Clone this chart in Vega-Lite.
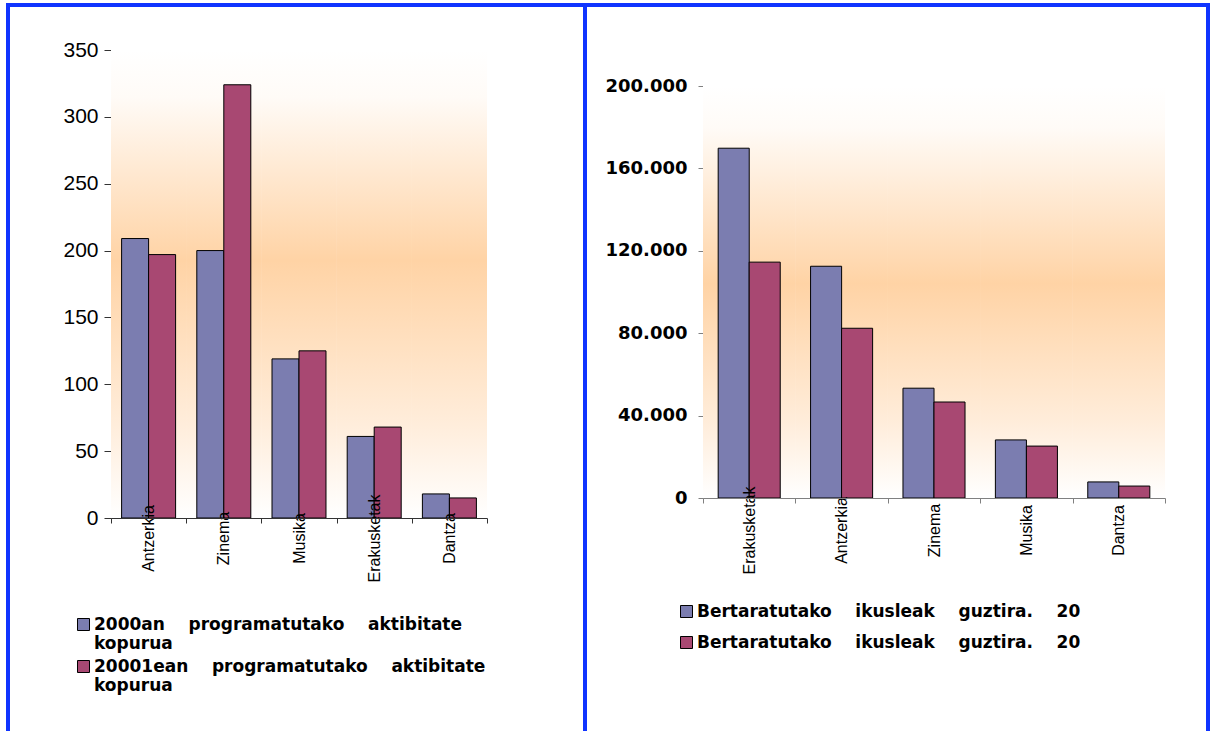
{
  "$schema": "https://vega.github.io/schema/vega-lite/v6.json",
  "padding": {"left": -2, "top": 3, "right": 0, "bottom": 0},
  "bounds": "flush",
  "spacing": 0,
  "background": "#ffffff",
  "config": {
    "view": {"stroke": "#1034ff", "strokeWidth": 4, "fill": "#ffffff"},
    "axis": {"grid": false, "labelColor": "#000000", "title": null}
  },
  "resolve": {"scale": {"color": "independent", "x": "independent", "y": "independent"}, "legend": {"color": "independent"}},
  "hconcat": [
    {
      "width": 577,
      "height": 740,
      "data": {"values": [
        {"cat": "Antzerkia", "series": "2000an programatutako aktibitate kopurua", "value": 209},
        {"cat": "Antzerkia", "series": "20001ean programatutako aktibitate kopurua", "value": 197},
        {"cat": "Zinema", "series": "2000an programatutako aktibitate kopurua", "value": 200},
        {"cat": "Zinema", "series": "20001ean programatutako aktibitate kopurua", "value": 324},
        {"cat": "Musika", "series": "2000an programatutako aktibitate kopurua", "value": 119},
        {"cat": "Musika", "series": "20001ean programatutako aktibitate kopurua", "value": 125},
        {"cat": "Erakusketak", "series": "2000an programatutako aktibitate kopurua", "value": 61},
        {"cat": "Erakusketak", "series": "20001ean programatutako aktibitate kopurua", "value": 68},
        {"cat": "Dantza", "series": "2000an programatutako aktibitate kopurua", "value": 18},
        {"cat": "Dantza", "series": "20001ean programatutako aktibitate kopurua", "value": 15}
      ]},
      "encoding": {
        "x": {
          "field": "cat", "type": "nominal",
          "scale": {"domain": ["Antzerkia", "Zinema", "Musika", "Erakusketak", "Dantza"], "range": [103, 479], "paddingInner": 0, "paddingOuter": 0},
          "axis": {"title": null, "orient": "bottom", "offset": -227, "labelAngle": 270, "labelAlign": "center", "labelBaseline": "middle", "labelPadding": 15, "tickBand": "extent", "tickSize": 5, "domainColor": "#333333", "tickColor": "#333333", "labelFont": "Liberation Sans", "labelFontSize": 16, "labelOverlap": false}
        },
        "y": {"field": "value", "type": "quantitative", "scale": {"domain": [0, 350], "range": [513, 45], "nice": false}, "axis": {"title": null, "offset": -103, "values": [0, 50, 100, 150, 200, 250, 300, 350], "tickSize": 7, "labelPadding": 6, "labelFont": "Liberation Sans", "labelFontSize": 21, "domainColor": "#333333", "tickColor": "#333333"}},
        "color": {
          "field": "series", "type": "nominal",
          "scale": {"domain": ["2000an programatutako aktibitate kopurua", "20001ean programatutako aktibitate kopurua"], "range": ["#7b7db0", "#a84872"]},
          "legend": {"orient": "none", "legendX": 67, "legendY": 611, "title": null, "padding": 0, "symbolType": "square", "symbolSize": 144, "symbolStrokeColor": "#000000", "symbolStrokeWidth": 1, "labelFont": "DejaVu Sans", "labelFontWeight": "bold", "labelFontSize": 17, "labelColor": "#000000", "labelOffset": 2, "rowPadding": 5, "labelLimit": 800, "labelBaseline": "middle",
            "labelExpr": "split(replace(replace(datum.label, regexp(' kopurua$'), '|kopurua'), regexp(' ', 'g'), '\u00a0\u00a0\u00a0\u00a0'), '|')"}
        }
      },
      "layer": [
        {
          "mark": {"type": "rect", "fill": {"gradient": "linear", "x1": 0, "y1": 0, "x2": 0, "y2": 1, "stops": [{"offset": 0, "color": "#ffffff"}, {"offset": 0.1, "color": "#fffbf7"}, {"offset": 0.45, "color": "#ffd3a5"}, {"offset": 0.8, "color": "#ffeddb"}, {"offset": 1, "color": "#ffffff"}]}},
          "encoding": {
            "y": {"datum": 350, "type": "quantitative"},
            "y2": {"datum": 0},
            "color": {"value": null}
          }
        },
        {
          "transform": [{"filter": "datum.series == '2000an programatutako aktibitate kopurua'"}],
          "mark": {"type": "bar", "stroke": "#000000", "strokeWidth": 1, "width": {"band": 0.359}, "xOffset": -13.5}
        },
        {
          "transform": [{"filter": "datum.series == '20001ean programatutako aktibitate kopurua'"}],
          "mark": {"type": "bar", "stroke": "#000000", "strokeWidth": 1, "width": {"band": 0.359}, "xOffset": 13.5}
        }
      ]
    },
    {
      "width": 623,
      "height": 740,
      "data": {"values": [
        {"cat": "Erakusketak", "series": "Bertaratutako ikusleak guztira. 2000", "value": 169800},
        {"cat": "Erakusketak", "series": "Bertaratutako ikusleak guztira. 2001", "value": 114500},
        {"cat": "Antzerkia", "series": "Bertaratutako ikusleak guztira. 2000", "value": 112500},
        {"cat": "Antzerkia", "series": "Bertaratutako ikusleak guztira. 2001", "value": 82400},
        {"cat": "Zinema", "series": "Bertaratutako ikusleak guztira. 2000", "value": 53300},
        {"cat": "Zinema", "series": "Bertaratutako ikusleak guztira. 2001", "value": 46600},
        {"cat": "Musika", "series": "Bertaratutako ikusleak guztira. 2000", "value": 28200},
        {"cat": "Musika", "series": "Bertaratutako ikusleak guztira. 2001", "value": 25200},
        {"cat": "Dantza", "series": "Bertaratutako ikusleak guztira. 2000", "value": 7800},
        {"cat": "Dantza", "series": "Bertaratutako ikusleak guztira. 2001", "value": 5800}
      ]},
      "encoding": {
        "x": {
          "field": "cat", "type": "nominal",
          "scale": {"domain": ["Erakusketak", "Antzerkia", "Zinema", "Musika", "Dantza"], "range": [118, 580], "paddingInner": 0, "paddingOuter": 0},
          "axis": {"title": null, "orient": "bottom", "offset": -247, "labelAngle": 270, "labelAlign": "center", "labelBaseline": "middle", "labelPadding": 27, "tickBand": "extent", "tickSize": 5, "domainColor": "#808080", "tickColor": "#808080", "labelFont": "Liberation Sans", "labelFontSize": 16, "labelOverlap": false}
        },
        "y": {"field": "value", "type": "quantitative", "scale": {"domain": [0, 200000], "range": [493, 81], "nice": false}, "axis": {"title": null, "offset": -118, "values": [0, 40000, 80000, 120000, 160000, 200000], "labelExpr": "replace(format(datum.value, ','), ',', '.')", "tickSize": 5, "labelPadding": 11, "labelFont": "DejaVu Sans", "labelFontWeight": "bold", "labelFontSize": 18, "domainColor": "#808080", "tickColor": "#808080"}},
        "color": {
          "field": "series", "type": "nominal",
          "scale": {"domain": ["Bertaratutako ikusleak guztira. 2000", "Bertaratutako ikusleak guztira. 2001"], "range": ["#7b7db0", "#a84872"]},
          "legend": {"orient": "none", "legendX": 93, "legendY": 598, "title": null, "padding": 0, "symbolType": "square", "symbolSize": 144, "symbolStrokeColor": "#000000", "symbolStrokeWidth": 1, "labelFont": "DejaVu Sans", "labelFontWeight": "bold", "labelFontSize": 17, "labelColor": "#000000", "labelOffset": 2, "rowPadding": 13, "labelLimit": 800,
            "labelExpr": "replace(slice(datum.label, 0, -2), regexp(' ', 'g'), '\u00a0\u00a0\u00a0\u00a0')"}
        }
      },
      "layer": [
        {
          "mark": {"type": "rect", "fill": {"gradient": "linear", "x1": 0, "y1": 0, "x2": 0, "y2": 1, "stops": [{"offset": 0, "color": "#ffffff"}, {"offset": 0.1, "color": "#fffbf7"}, {"offset": 0.48, "color": "#ffd3a5"}, {"offset": 0.82, "color": "#ffeddb"}, {"offset": 1, "color": "#ffffff"}]}},
          "encoding": {
            "y": {"datum": 200000, "type": "quantitative"},
            "y2": {"datum": 0},
            "color": {"value": null}
          }
        },
        {
          "transform": [{"filter": "datum.series == 'Bertaratutako ikusleak guztira. 2000'"}],
          "mark": {"type": "bar", "stroke": "#000000", "strokeWidth": 1, "width": {"band": 0.336}, "xOffset": -15.5}
        },
        {
          "transform": [{"filter": "datum.series == 'Bertaratutako ikusleak guztira. 2001'"}],
          "mark": {"type": "bar", "stroke": "#000000", "strokeWidth": 1, "width": {"band": 0.336}, "xOffset": 15.5}
        }
      ]
    }
  ]
}
